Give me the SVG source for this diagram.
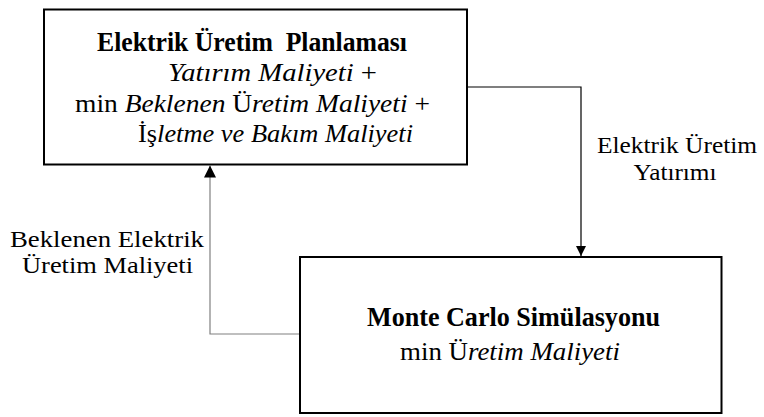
<svg xmlns="http://www.w3.org/2000/svg" width="764" height="417" viewBox="0 0 764 417">
<defs>
<style>
.box{fill:#fff;stroke:#000;stroke-width:2}
.t{font-family:"Liberation Serif","Times New Roman",serif;fill:#000}
.b{font-weight:bold}
.i{font-style:italic}
.c{fill:none;stroke-width:1.2}
</style>
<marker id="ah" viewBox="0 0 10 10" refX="10" refY="5" markerWidth="10" markerHeight="11" markerUnits="userSpaceOnUse" orient="auto">
<path d="M0,0 L10,5 L0,10 z" fill="#000"/>
</marker>
<marker id="ah2" viewBox="0 0 10 10" refX="10" refY="5" markerWidth="12" markerHeight="12" markerUnits="userSpaceOnUse" orient="auto">
<path d="M0,0 L10,5 L0,10 z" fill="#000"/>
</marker>
</defs>
<g id="connectors">
<path class="c" d="M467,87 H581 V256" stroke="#000" marker-end="url(#ah)"/>
<path class="c" d="M300,334 H210 V165.5" stroke="#808080" marker-end="url(#ah2)"/>
<text class="t" font-size="24" x="677" y="153" text-anchor="middle" textLength="160" lengthAdjust="spacingAndGlyphs">Elektrik Üretim</text>
<text class="t" font-size="24" x="675" y="180" text-anchor="middle" textLength="83" lengthAdjust="spacingAndGlyphs">Yatırımı</text>
<text class="t" font-size="24" x="107" y="247" text-anchor="middle" textLength="194" lengthAdjust="spacingAndGlyphs">Beklenen Elektrik</text>
<text class="t" font-size="24" x="107.5" y="273" text-anchor="middle" textLength="171" lengthAdjust="spacingAndGlyphs">Üretim Maliyeti</text>
</g>
<g id="node-planlama">
<rect class="box" x="44" y="9.5" width="423" height="155"/>
<text class="t b" font-size="27" x="97" y="51" textLength="310" lengthAdjust="spacingAndGlyphs" xml:space="preserve">Elektrik Üretim  Planlaması</text>
<text class="t" font-size="26" x="168" y="81" textLength="209" lengthAdjust="spacingAndGlyphs"><tspan class="i">Yatırım Maliyeti</tspan> +</text>
<text class="t" font-size="26" x="75" y="112" textLength="355" lengthAdjust="spacingAndGlyphs">min <tspan class="i">Beklenen</tspan> Ü<tspan class="i">retim Maliyeti</tspan> +</text>
<text class="t" font-size="26" x="138" y="142" textLength="275" lengthAdjust="spacingAndGlyphs">İş<tspan class="i">letme ve Bakım Maliyeti</tspan></text>
</g>
<g id="node-montecarlo">
<rect class="box" x="300" y="257" width="421.5" height="156"/>
<text class="t b" font-size="27" x="367" y="326" textLength="293" lengthAdjust="spacingAndGlyphs">Monte Carlo Simülasyonu</text>
<text class="t" font-size="26" x="400" y="360" textLength="220" lengthAdjust="spacingAndGlyphs">min Ü<tspan class="i">retim Maliyeti</tspan></text>
</g>
</svg>
